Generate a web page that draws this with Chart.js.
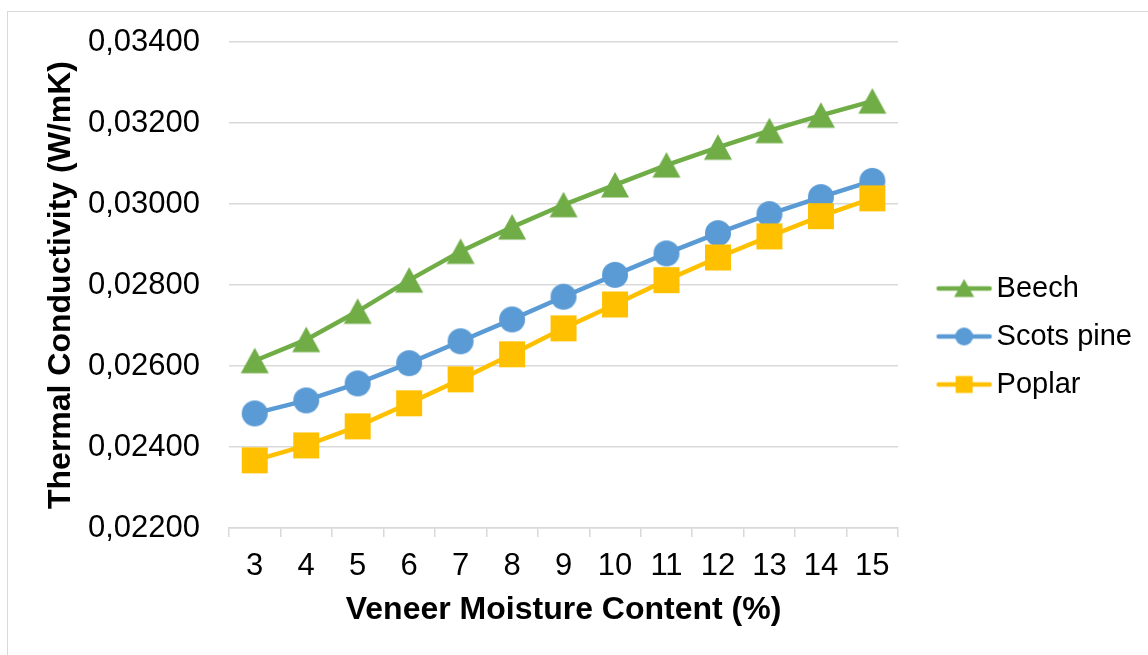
<!DOCTYPE html>
<html>
<head>
<meta charset="utf-8">
<script src="https://cdn.jsdelivr.net/npm/chart.js@4.4.1/dist/chart.umd.min.js"></script>
<style>
  html, body { margin: 0; padding: 0; background: #ffffff; }
  #wrap { position: relative; width: 1148px; height: 655px; overflow: hidden; }
  #frame {
    position: absolute; left: 7px; top: 11px; width: 1200px; height: 700px;
    border-left: 1.5px solid #d9d9d9; border-top: 1.5px solid #d9d9d9;
    pointer-events: none;
  }
  #chart { position: absolute; left: 0; top: 0; }
</style>
</head>
<body>
<div id="wrap">
  <div id="frame"></div>
  <canvas id="chart" width="1148" height="655"></canvas>
</div>
<script>
// Veneer moisture content (%) on the category axis
const moistureLabels = ['3', '4', '5', '6', '7', '8', '9', '10', '11', '12', '13', '14', '15'];

// Thermal conductivity (W/mK) per species
const beech     = [0.02613, 0.02665, 0.02735, 0.02812, 0.02883, 0.02943, 0.02998, 0.03047, 0.03096, 0.03140, 0.03181, 0.03219, 0.03254];
const scotsPine = [0.02483, 0.02515, 0.02557, 0.02607, 0.02661, 0.02715, 0.02771, 0.02825, 0.02878, 0.02928, 0.02975, 0.03017, 0.03057];
const poplar    = [0.02367, 0.02404, 0.02451, 0.02508, 0.02567, 0.02629, 0.02693, 0.02752, 0.02812, 0.02868, 0.02920, 0.02970, 0.03014];

// Value axis range and tick step
const yMin = 0.022;
const yMax = 0.034;
const yStep = 0.002;

const GREEN = '#70AD47';
const BLUE = '#5B9BD5';
const GOLD = '#FFC000';
const GRID = '#d9d9d9';
const FONT = 'Liberation Sans, Arial, sans-serif';

// Marker sprites, centred on their bounding box
function markerCanvas(shape, color) {
  const s = 30;
  const c = document.createElement('canvas');
  c.width = s; c.height = s;
  const g = c.getContext('2d');
  g.fillStyle = color;
  g.beginPath();
  const m = s / 2;
  if (shape === 'circle') {
    g.arc(m, m, 13, 0, Math.PI * 2);
  } else if (shape === 'square') {
    g.rect(m - 13, m - 13, 26, 26);
  } else {
    g.moveTo(m, m - 13);
    g.lineTo(m + 14, m + 12.5);
    g.lineTo(m - 14, m + 12.5);
    g.closePath();
  }
  g.fill();
  return c;
}

// Legend sample: short line with marker, content on the right side of the sprite
function legendCanvas(shape, color) {
  const w = 86, h = 30;
  const c = document.createElement('canvas');
  c.width = w; c.height = h;
  const g = c.getContext('2d');
  const x0 = 30, x1 = 85, cy = h / 2;
  g.strokeStyle = color;
  g.lineWidth = 4.5;
  g.lineCap = 'round';
  g.beginPath(); g.moveTo(x0 + 2, cy); g.lineTo(x1 - 2, cy); g.stroke();
  g.fillStyle = color;
  const mx = (x0 + x1) / 2;
  g.beginPath();
  if (shape === 'circle') {
    g.arc(mx, cy, 9, 0, Math.PI * 2);
  } else if (shape === 'square') {
    g.rect(mx - 8.5, cy - 8.5, 17, 17);
  } else {
    g.moveTo(mx, cy - 9.5);
    g.lineTo(mx + 10, cy + 8.5);
    g.lineTo(mx - 10, cy + 8.5);
    g.closePath();
  }
  g.fill();
  return c;
}

const series = [
  { label: 'Beech', data: beech, color: GREEN, shape: 'triangle', order: 2 },
  { label: 'Scots pine', data: scotsPine, color: BLUE, shape: 'circle', order: 1 },
  { label: 'Poplar', data: poplar, color: GOLD, shape: 'square', order: 0 }
];

const legendSprites = series.map(s => legendCanvas(s.shape, s.color));

const datasets = series.map(s => ({
  label: s.label,
  data: s.data,
  order: s.order,
  borderColor: s.color,
  backgroundColor: s.color,
  borderWidth: 4.5,
  tension: 0,
  pointStyle: markerCanvas(s.shape, s.color),
  pointRadius: 13,
  pointHoverRadius: 13
}));

const fmt = v => Number(v).toFixed(5).replace('.', ',');

new Chart(document.getElementById('chart'), {
  type: 'line',
  data: { labels: moistureLabels, datasets },
  options: {
    responsive: false,
    animation: false,
    events: [],
    layout: { padding: { left: 0, top: 42, right: 6, bottom: 24 } },
    plugins: {
      tooltip: { enabled: false },
      legend: {
        position: 'right',
        align: 'center',
        labels: {
          usePointStyle: true,
          pointStyleWidth: 65,
          padding: 19,
          color: '#000000',
          font: { family: FONT, size: 29 },
          generateLabels: chart => chart.data.datasets.map((ds, i) => ({
            text: ds.label,
            pointStyle: legendSprites[i],
            fillStyle: ds.borderColor,
            strokeStyle: ds.borderColor,
            lineWidth: 0,
            hidden: false,
            datasetIndex: i
          }))
        }
      }
    },
    scales: {
      x: {
        type: 'category',
        offset: true,
        grid: {
          offset: true,
          drawOnChartArea: false,
          drawTicks: true,
          tickLength: 9,
          color: GRID,
          lineWidth: 1.5
        },
        border: { display: true, color: GRID, width: 1.5 },
        ticks: {
          color: '#000000',
          padding: 11,
          maxRotation: 0,
          autoSkip: false,
          font: { family: FONT, size: 31 }
        },
        title: {
          display: true,
          text: 'Veneer Moisture Content (%)',
          color: '#000000',
          font: { family: FONT, size: 32, weight: 'bold' },
          padding: { top: 0, bottom: 2 }
        },
        afterFit: scale => { scale.height = 103; }
      },
      y: {
        min: yMin,
        max: yMax,
        grid: { color: GRID, lineWidth: 1.5, drawTicks: true, tickLength: 26, tickColor: 'rgba(0,0,0,0)' },
        border: { display: false },
        ticks: {
          stepSize: yStep,
          padding: 3,
          color: '#000000',
          font: { family: FONT, size: 31 },
          callback: v => fmt(v)
        },
        title: {
          display: true,
          text: 'Thermal Conductivity (W/mK)',
          color: '#000000',
          font: { family: FONT, size: 32, weight: 'bold' },
          padding: { top: 42, bottom: 0 }
        },
        afterFit: scale => { scale.width = 229; }
      }
    }
  }
});
</script>
</body>
</html>
